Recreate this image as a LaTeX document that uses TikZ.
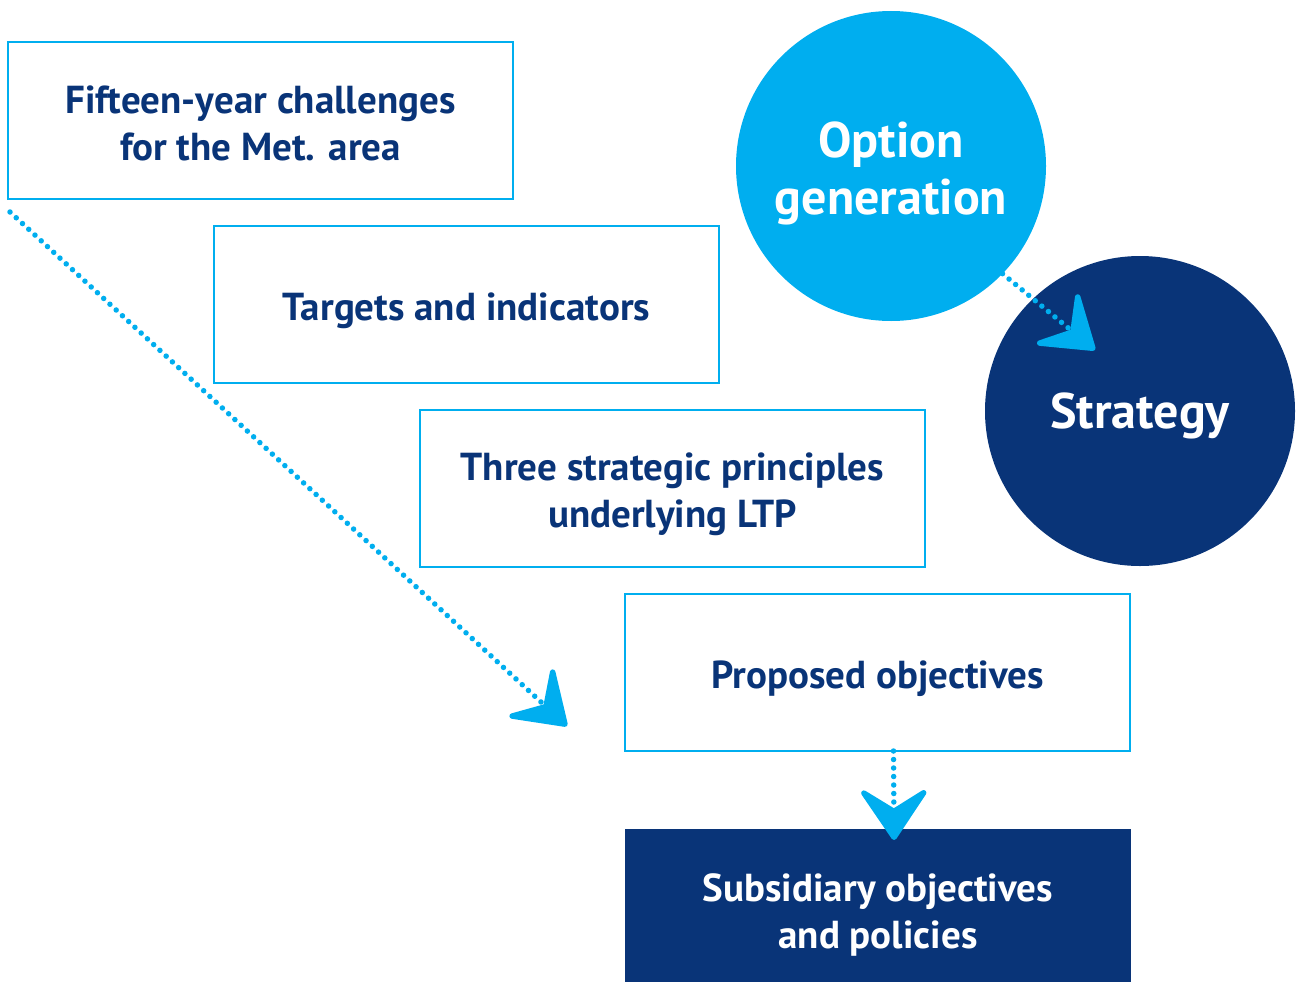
\documentclass[tikz,border=0pt]{standalone}
\usepackage{fontspec}
\setmainfont{PT Sans}
\usetikzlibrary{arrows.meta}
\definecolor{lblue}{RGB}{0,174,239}
\definecolor{dblue}{RGB}{9,52,120}
\begin{document}
\begin{tikzpicture}[x=1pt,y=-1pt,
  stepbox/.style={draw=lblue,line width=1.5pt,fill=white,minimum width=505pt,minimum height=157pt,
    inner sep=0pt,outer sep=0pt},
  darkbox/.style={stepbox,fill=dblue,draw=dblue,minimum height=152pt},
  boxtext/.style={inner sep=0pt,align=center,text=dblue,font=\fontsize{39}{47}\selectfont\bfseries},
  darktext/.style={boxtext,text=white},
  bigcirc/.style={circle,minimum size=310pt,inner sep=0pt,outer sep=0pt},
  circtext/.style={inner sep=0pt,align=center,text=white,font=\fontsize{50}{57}\selectfont\bfseries},
  dotarrow/.style={lblue,line width=5.5pt,line cap=round,dash pattern=on 0pt off 8.5pt,
    -{Stealth[length=58pt,width=78pt,inset=24pt,round=false]}}
]
\useasboundingbox (0,0) rectangle (1298,982);
\node[stepbox] (fift) at (260.5,120.5) {};
\node[stepbox] (targ) at (466.5,304.5) {};
\node[stepbox] (three) at (672.5,488.5) {};
\node[stepbox] (prop) at (877.5,672.5) {};
\node[darkbox] (subs) at (878,906) {};
\node[bigcirc,fill=lblue] (opt) at (891,166) {};
\node[bigcirc,fill=dblue] (strat) at (1140,411) {};
\node[boxtext] (fiftT) at ([yshift=-3pt]fift.center) {Fifteen-year challenges\\for the Met. area};
\node[boxtext] (targT) at ([yshift=-6pt]targ.center) {Targets and indicators};
\node[boxtext] (threeT) at ([yshift=-6pt]three.center) {Three strategic principles\\underlying LTP};
\node[boxtext] (propT) at ([yshift=-6pt]prop.center) {Proposed objectives};
\node[darktext] (subsT) at ([yshift=-9pt]subs.center) {Subsidiary objectives\\and policies};
\node[circtext] (optT) at ([yshift=-7pt]opt.center) {Option\\generation};
\node[circtext] (stratT) at ([yshift=-5pt]strat.center) {Strategy};
\coordinate (a1s) at (10,212);
\coordinate (a1e) at (567,726);
\coordinate (a2e) at (1095,350);
\draw[dotarrow] (a1s) -- (a1e);
\draw[dotarrow] (opt.-44) -- (a2e);
\draw[dotarrow,shorten >=-10pt] ([xshift=16pt]prop.south) -- ([xshift=16pt]subs.north);
\end{tikzpicture}
\end{document}
